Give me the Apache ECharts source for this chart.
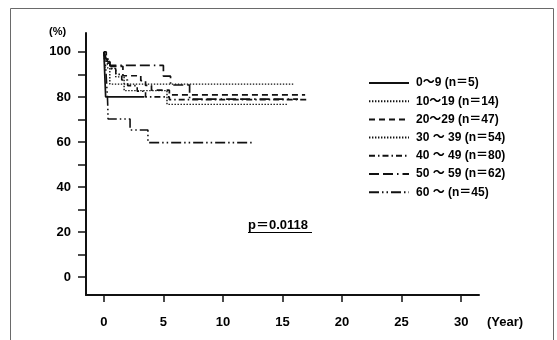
<!DOCTYPE html>
<html>
<head>
<meta charset="utf-8">
<style>
  html, body { margin: 0; padding: 0; background: #fff; }
  #chart { width: 557px; height: 340px; }
</style>
<script src="https://cdn.jsdelivr.net/npm/echarts@6/dist/echarts.min.js"></script>
</head>
<body>
<div id="chart"></div>
<script>
// Age groups shown in the legend
const groupNames = [
  '0～9 (n＝5)',
  '10～19 (n＝14)',
  '20～29 (n＝47)',
  '30 ～ 39 (n＝54)',
  '40 ～ 49 (n＝80)',
  '50 ～ 59 (n＝62)',
  '60 ～ (n＝45)'
];

// Kaplan-Meier survival: [year, survival %] at each step
const surv0to9 = [[0, 100], [0.15, 80], [3.4, 80]];
const surv10to19 = [[0, 100], [0.1, 92.9], [0.5, 85.7], [15.9, 85.7]];
const surv20to29 = [[0, 100], [0.2, 97.9], [0.3, 95.7], [0.5, 93.6], [1.6, 89.4], [3.1, 87.2],
  [3.5, 85.1], [4.0, 83.0], [5.5, 80.9], [16.9, 80.9]];
const surv30to39 = [[0, 100], [0.1, 98.1], [0.2, 96.3], [0.3, 94.4], [0.6, 92.6], [1.0, 88.9],
  [1.7, 82.8], [5.3, 76.7], [15.4, 76.7]];
const surv40to49 = [[0, 100], [0.1, 97.5], [0.3, 95.0], [0.5, 92.5], [1.0, 90.0], [1.5, 87.5],
  [2.0, 85.0], [2.8, 82.5], [3.5, 80.0], [5.5, 78.8], [17.0, 78.8]];
const surv50to59 = [[0, 100], [0.1, 98.4], [0.2, 96.8], [0.5, 94.0], [5.0, 89.2], [5.6, 85.3],
  [7.2, 79.0], [16.3, 79.0]];
const surv60plus = [[0, 100], [0.05, 97.8], [0.1, 95.6], [0.15, 93.3], [0.2, 88.9], [0.25, 84.4],
  [0.3, 80.0], [0.33, 75.6], [0.35, 70.2], [2.2, 65.3], [3.7, 59.7], [12.5, 59.7]];

const survData = [surv0to9, surv10to19, surv20to29, surv30to39, surv40to49, surv50to59, surv60plus];

// Axis ticks and labels
const yTicks = [0, 10, 20, 30, 40, 50, 60, 70, 80, 90, 100];
const yLabels = [0, 20, 40, 60, 80, 100];
const xTicks = [0, 5, 10, 15, 20, 25, 30];
const pValueText = 'p＝0.0118';

// Line patterns per group
const dashes = [
  'solid',
  [1.4, 1.6],
  [6, 4],
  [1.4, 1.6],
  [6, 3, 1.5, 3],
  [10, 4, 10, 4, 1.5, 4],
  [10, 3, 1.5, 3, 1.5, 3]
];
const widths = [1.7, 1.4, 1.7, 1.4, 1.6, 1.7, 1.6];

const latin = '"Liberation Sans", Arial, "Noto Sans CJK JP", sans-serif';
const ink = '#111';

const chart = echarts.init(document.getElementById('chart'), null, { renderer: 'canvas' });

chart.setOption({
  animation: false,
  backgroundColor: '#fff',
  grid: { left: 86, right: 78, top: 33, bottom: 45, containLabel: false, outerBoundsMode: 'none' },
  xAxis: {
    type: 'value',
    min: -1.5,
    max: 31.5,
    splitLine: { show: false },
    axisLine: { onZero: false, lineStyle: { color: ink, width: 2 } },
    axisTick: { show: true, length: 7, customValues: xTicks, lineStyle: { color: ink, width: 1.5 } },
    axisLabel: {
      customValues: xTicks, margin: 21,
      color: '#000', fontFamily: latin, fontWeight: 'bold', fontSize: 13
    }
  },
  yAxis: {
    type: 'value',
    min: -8,
    max: 108.4,
    splitLine: { show: false },
    axisLine: { onZero: false, lineStyle: { color: ink, width: 2 } },
    axisTick: { show: true, length: 8, customValues: yTicks, lineStyle: { color: ink, width: 1.5 } },
    axisLabel: {
      customValues: yLabels, margin: 15,
      color: '#000', fontFamily: latin, fontWeight: 'bold', fontSize: 13
    }
  },
  legend: {
    orient: 'vertical',
    left: 363,
    top: 72,
    itemWidth: 40,
    itemHeight: 14,
    itemGap: 6.2,
    data: groupNames,
    itemStyle: { color: 'rgba(0,0,0,0)', borderWidth: 0, opacity: 0 },
    textStyle: {
      color: '#000', fontFamily: latin, fontWeight: 'bold', fontSize: 12,
      padding: [0, 0, 0, 2]
    }
  },
  series: groupNames.map((name, i) => ({
    name: name,
    type: 'line',
    step: 'end',
    symbol: 'none',
    showSymbol: false,
    data: survData[i],
    lineStyle: { color: ink, width: widths[i], type: dashes[i] },
    itemStyle: { color: ink },
    z: 10 - i
  })),
  graphic: [
    // outer frame (open at the bottom)
    { type: 'polyline', shape: { points: [[10.5, 345], [10.5, 8.5], [553.5, 8.5], [553.5, 345]] },
      style: { stroke: '#6a6a6a', lineWidth: 1, fill: null } },
    { type: 'text', left: 49, top: 26,
      style: { text: '(%)', fill: '#000', font: 'bold 11px ' + latin } },
    { type: 'text', left: 487, top: 316,
      style: { text: '(Year)', fill: '#000', font: 'bold 13px ' + latin } },
    { type: 'text', left: 248, top: 219,
      style: { text: pValueText, fill: '#000', font: 'bold 13px ' + latin } },
    { type: 'line', shape: { x1: 248, y1: 232.5, x2: 312, y2: 232.5 },
      style: { stroke: '#000', lineWidth: 1.2 } }
  ]
});
</script>
</body>
</html>
